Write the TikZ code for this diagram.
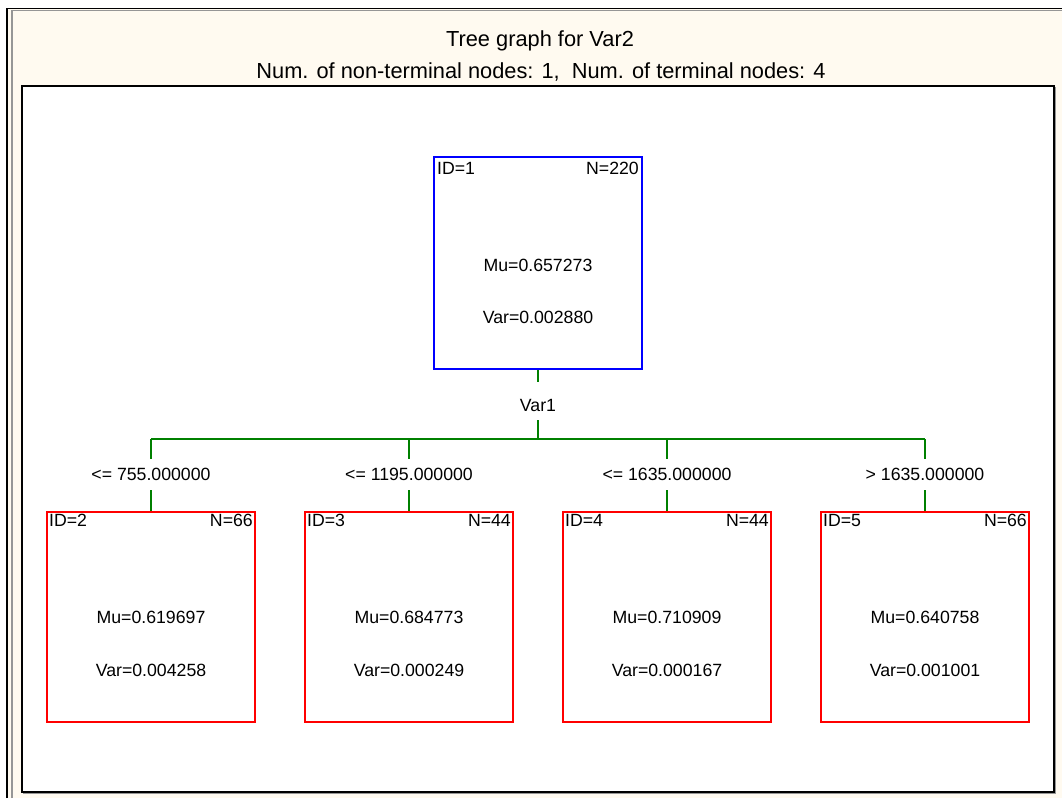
\documentclass[tikz,border=0pt]{standalone}
\usepackage{fontspec}
\setmainfont{Liberation Sans}
\definecolor{cream}{HTML}{FFFAF0}
\definecolor{treegreen}{RGB}{0,128,0}
\definecolor{shadowgray}{RGB}{150,150,150}
\begin{document}
\begin{tikzpicture}[x=1pt,y=-1pt,
  box/.style={draw, line width=2pt, minimum width=208pt, minimum height=210pt, inner sep=0pt},
  rootbox/.style={box, draw=blue, minimum height=212pt},
  leafbox/.style={box, draw=red},
  txt/.style={font=\fontsize{17.7}{20}\selectfont, inner sep=0pt, text=black},
  hdr/.style={font=\fontsize{21.8}{26}\selectfont, inner sep=0pt, anchor=base},
  lab/.style={txt, minimum height=31pt, minimum width=10pt},
  conn/.style={treegreen, line width=2pt}
]
\useasboundingbox (0,0) rectangle (1062,798);
\fill[white] (0,0) rectangle (1062,798);
\fill[cream] (7,8) rectangle (1062,798);
\draw[black, line width=1.5pt] (7,798) -- (7,8.5) -- (1062,8.5);
\draw[shadowgray, line width=1.2pt] (12,798) -- (12,10.5) -- (1062,10.5);
% inner panel
\fill[white] (22,86) rectangle (1054,792);
\draw[shadowgray, line width=1.2pt] (23,793.5) -- (1055.5,793.5) -- (1055.5,87);
\draw[black, line width=1.3pt] (22,86) rectangle (1054,792);
% header
\node[hdr] (title) at (540,46) {Tree graph for Var2};
\node[hdr] (sub) at (541,78) {Num. of non-terminal nodes: 1,\ \ Num. of terminal nodes: 4};
% root
\node[rootbox] (n1) at (538,263) {};
\node[txt, anchor=base west] (n1id) at (437,174) {ID=1};
\node[txt, anchor=base east] (n1n) at (639,174) {N=220};
\node[txt, anchor=base] (n1mu) at (538,271) {Mu=0.657273};
\node[txt, anchor=base] (n1var) at (538,323) {Var=0.002880};
% split variable
\node[txt, anchor=base] (v1) at (538,411) {Var1};
\coordinate (bus) at (538,439);
\draw[conn] (n1.south) -- ([yshift=17pt]v1.north);
\draw[conn] ([yshift=-9pt]v1.base) -- (bus);
% leaves
\foreach \i/\x/\id/\n/\mu/\var/\cond in {
  2/151/2/66/0.619697/0.004258/{<= 755.000000},
  3/409/3/44/0.684773/0.000249/{<= 1195.000000},
  4/667/4/44/0.710909/0.000167/{<= 1635.000000},
  5/925/5/66/0.640758/0.001001/{> 1635.000000}}{
  \node[leafbox] (n\i) at (\x,617) {};
  \node[txt, anchor=base west] (n\i id) at ([xshift=3pt,yshift=-15pt]n\i.north west) {ID=\id};
  \node[txt, anchor=base east] (n\i n) at ([xshift=-3pt,yshift=-15pt]n\i.north east) {N=\n};
  \node[txt, anchor=base] (n\i mu) at (\x,623) {Mu=\mu};
  \node[txt, anchor=base] (n\i var) at (\x,676) {Var=\var};
  \node[lab] (c\i) at (\x,474.5) {\cond};
  \coordinate (b\i) at (\x,439);
  \draw[conn] (b\i) -- (c\i.north);
  \draw[conn] (c\i.south) -- (n\i.north);
}
\draw[conn] (b2) -- (b5);
\end{tikzpicture}
\end{document}
